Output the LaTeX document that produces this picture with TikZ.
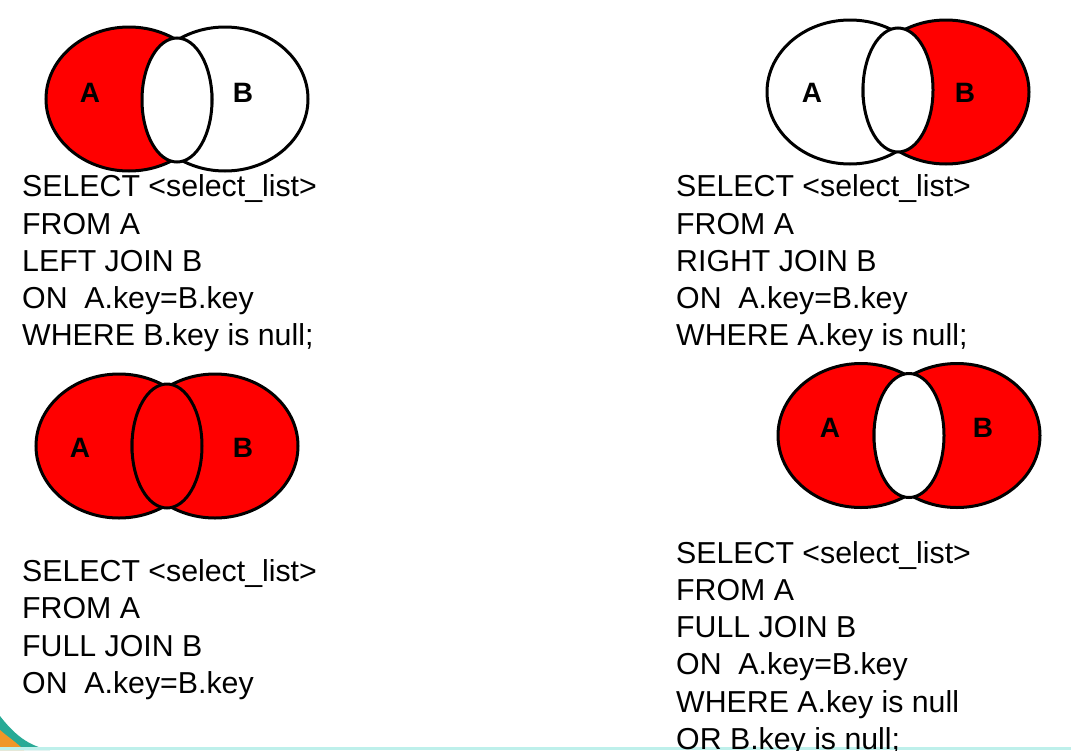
\documentclass[tikz,border=0pt]{standalone}
\usepackage{fontspec}
\setmainfont{Liberation Sans}
\usetikzlibrary{shapes.geometric}

\definecolor{joinred}{RGB}{255,0,0}
\definecolor{slideteal}{RGB}{40,170,150}
\definecolor{slideorange}{RGB}{240,150,40}
\definecolor{slidestrip}{RGB}{190,240,235}

\tikzset{
  venn/.style={ellipse, draw, line width=3pt, fill=white,
    minimum width=166pt, minimum height=144pt, inner sep=0pt},
  lens/.style={ellipse, draw, line width=3pt, fill=white,
    minimum width=70pt, minimum height=124pt, inner sep=0pt},
  lbl/.style={font=\fontsize{28}{28}\selectfont\bfseries, inner sep=0pt},
  % anchor sits on the last line of the block
  sql/.style={anchor=base west, align=left, inner sep=0pt,
    font=\fontsize{30.3}{37.2}\selectfont}
}

\begin{document}
\begin{tikzpicture}[x=1pt,y=-1pt]
		\clip (0,0) rectangle (1071,750);
		\fill[white] (0,0) rectangle (1071,750);
		
		% slide background bits
		\fill[slideteal] (0,716) .. controls (14,734) and (28,746) .. (50,750) -- (0,750) -- cycle;
		\fill[slideorange] (0,730) .. controls (8,737) and (16,742) .. (24,750) -- (0,750) -- cycle;
		\fill[slidestrip] (0,747) rectangle (1071,750);
		
		% left join
		\node[venn] (lj-B) at (225,99) {};
		\node[venn, fill=joinred] (lj-A) at (129,99) {};
		\node[lens] (lj-AB) at (177,100) {};
		\node[lbl] (lj-a) at (90,93) {A};
		\node[lbl] (lj-b) at (243,93) {B};
		\node[sql] (lj-sql) at (22,345.7) {SELECT <select\_list>\\FROM A\\LEFT JOIN B\\ON \ A.key=B.key\\WHERE B.key is null;};
		
		% right join
		\node[venn] (rj-A) at (850,92) {};
		\node[venn, fill=joinred] (rj-B) at (946,92) {};
		\node[lens] (rj-AB) at (898,90) {};
		\node[lbl] (rj-a) at (812,93) {A};
		\node[lbl] (rj-b) at (965,93) {B};
		\node[sql] (rj-sql) at (676,345.7) {SELECT <select\_list>\\FROM A\\RIGHT JOIN B\\ON \ A.key=B.key\\WHERE A.key is null;};
		
		% full join
		\node[venn, fill=joinred] (fj-A) at (119,446) {};
		\node[venn, fill=joinred] (fj-B) at (215,446) {};
		\node[lens, fill=joinred] (fj-AB) at (167,446) {};
		\node[lbl] (fj-a) at (80,448) {A};
		\node[lbl] (fj-b) at (243,448) {B};
		\node[sql] (fj-sql) at (22,693.3) {SELECT <select\_list>\\FROM A\\FULL JOIN B\\ON \ A.key=B.key};
		
		% full join without intersection
		\node[venn, fill=joinred] (fx-A) at (861,435.5) {};
		\node[venn, fill=joinred] (fx-B) at (957,435.5) {};
		\node[lens] (fx-AB) at (909,435.5) {};
		\node[lbl] (fx-a) at (830,428) {A};
		\node[lbl] (fx-b) at (983,428) {B};
		\node[sql] (fx-sql) at (676,749.3) {SELECT <select\_list>\\FROM A\\FULL JOIN B\\ON \ A.key=B.key\\WHERE A.key is null\\OR B.key is null;};
		\end{tikzpicture}
\end{document}
